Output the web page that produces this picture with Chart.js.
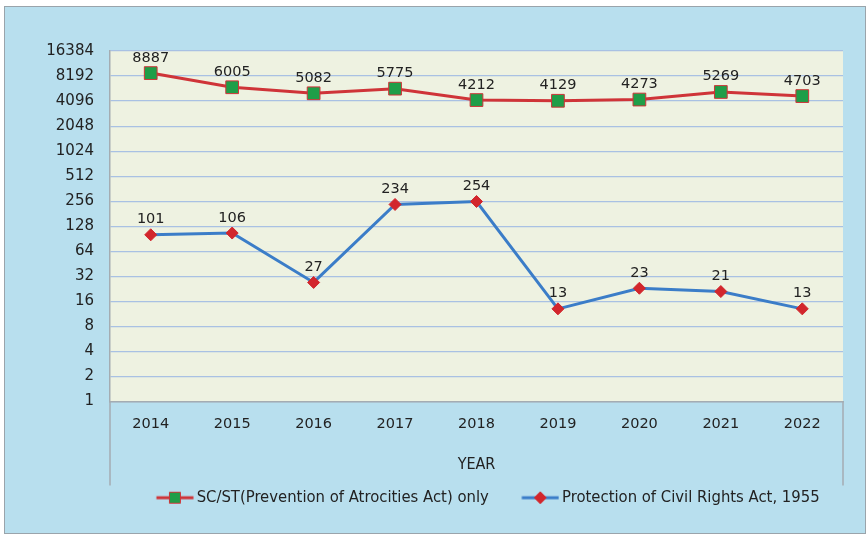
<!DOCTYPE html>
<html><head><meta charset="utf-8">
<script src="https://cdn.jsdelivr.net/npm/chart.js@4/dist/chart.umd.min.js"></script>
<style>html,body{margin:0;padding:0;background:#fff;overflow:hidden}#wrap{width:867px;height:538px}</style>
</head><body><div id="wrap"><canvas id="c" width="867" height="538"></canvas></div>
<script>
const years = ['2014','2015','2016','2017','2018','2019','2020','2021','2022'];
const scstValues = [8887,6005,5082,5775,4212,4129,4273,5269,4703];
const pcrValues = [101,106,27,234,254,13,23,21,13];
const yTickValues = [1,2,4,8,16,32,64,128,256,512,1024,2048,4096,8192,16384];
const seriesNames = ['SC/ST(Prevention of Atrocities Act) only','Protection of Civil Rights Act, 1955'];
const xTitle = 'YEAR';

const RED = '#cf3438', GREEN = '#1f9e48', BLUE = '#3b7dc8', DRED = '#d2262c';
const NUM_FONT = 'DejaVu Sans';
const TXT_FONT = '"Liberation Sans Narrow", "DejaVu Sans Condensed", sans-serif';

function makeIcon(lineColor, fill, stroke, shape) {
  const c = document.createElement('canvas');
  c.width = 66; c.height = 16;
  const g = c.getContext('2d');
  g.strokeStyle = lineColor; g.lineWidth = 3;
  g.beginPath(); g.moveTo(28.5, 8); g.lineTo(65.5, 8); g.stroke();
  const cx = 47, cy = 8;
  g.fillStyle = fill; g.strokeStyle = stroke; g.lineWidth = 1;
  g.beginPath();
  if (shape === 'rect') { g.rect(cx - 5.5, cy - 5.5, 11, 11); }
  else { g.moveTo(cx, cy - 6); g.lineTo(cx + 6, cy); g.lineTo(cx, cy + 6); g.lineTo(cx - 6, cy); g.closePath(); }
  g.fill(); g.stroke();
  return c;
}
const icons = [makeIcon(RED, GREEN, RED, 'rect'), makeIcon(BLUE, DRED, DRED, 'diamond')];

const panelPlugin = {
  id: 'panel',
  beforeDraw(chart) {
    const ctx = chart.ctx, a = chart.chartArea;
    ctx.save();
    ctx.fillStyle = '#ffffff'; ctx.fillRect(0, 0, chart.width, chart.height);
    ctx.fillStyle = '#b8dfee'; ctx.fillRect(5, 6, chart.width - 7, chart.height - 10);
    ctx.strokeStyle = '#9aa4ab'; ctx.lineWidth = 1;
    ctx.strokeRect(4.5, 6.5, chart.width - 6, chart.height - 11);
    ctx.fillStyle = '#eef2e1'; ctx.fillRect(a.left, a.top, a.right - a.left, a.bottom - a.top);
    ctx.restore();
  },
  afterDraw(chart) {
    const ctx = chart.ctx, a = chart.chartArea;
    ctx.save();
    ctx.strokeStyle = '#a4acb2'; ctx.lineWidth = 1.5;
    ctx.beginPath();
    ctx.moveTo(a.left, a.bottom); ctx.lineTo(a.left, a.bottom + 84);
    ctx.moveTo(a.right, a.bottom); ctx.lineTo(a.right, a.bottom + 84);
    ctx.stroke();
    ctx.restore();
  }
};

const labelPlugin = {
  id: 'pointLabels',
  afterDatasetsDraw(chart) {
    const ctx = chart.ctx;
    ctx.save();
    ctx.font = '14.5px ' + NUM_FONT;
    ctx.fillStyle = '#222';
    ctx.textAlign = 'center'; ctx.textBaseline = 'bottom';
    chart.data.datasets.forEach((ds, i) => {
      chart.getDatasetMeta(i).data.forEach((pt, j) => {
        ctx.fillText(String(ds.data[j]), pt.x, pt.y - 8);
      });
    });
    ctx.restore();
  }
};

new Chart(document.getElementById('c'), {
  type: 'line',
  data: {
    labels: years,
    datasets: [
      { label: seriesNames[0], data: scstValues, borderColor: RED, borderWidth: 3,
        pointStyle: 'rect', pointRadius: 9, pointHoverRadius: 9, pointBackgroundColor: GREEN,
        pointBorderColor: RED, pointBorderWidth: 1, tension: 0 },
      { label: seriesNames[1], data: pcrValues, borderColor: BLUE, borderWidth: 3,
        pointStyle: 'rectRot', pointRadius: 6, pointHoverRadius: 6, pointBackgroundColor: DRED,
        pointBorderColor: DRED, pointBorderWidth: 1, tension: 0 }
    ]
  },
  options: {
    responsive: false, animation: false, devicePixelRatio: 1,
    layout: { padding: { top: 51, right: 24, bottom: 22, left: 0 } },
    plugins: {
      tooltip: { enabled: false },
      legend: {
        position: 'bottom', fullSize: false,
        labels: {
          usePointStyle: true, pointStyleWidth: 55, padding: 10, color: '#222',
          font: { family: TXT_FONT, size: 16.5 },
          generateLabels(chart) {
            return chart.data.datasets.map((ds, i) => ({
              text: ds.label, pointStyle: icons[i], fillStyle: 'transparent',
              strokeStyle: 'transparent', lineWidth: 0, hidden: false, datasetIndex: i, fontColor: '#222'
            }));
          }
        }
      }
    },
    scales: {
      x: {
        offset: true,
        grid: { display: false, drawTicks: false },
        border: { display: true, color: '#a4acb2', width: 1.5 },
        ticks: { padding: 14, color: '#222', font: { family: NUM_FONT, size: 14.5 } },
        title: { display: true, text: xTitle, color: '#222', font: { family: TXT_FONT, size: 16 }, padding: { top: 0, bottom: 5 } },
        afterFit(s) { s.height = 78; }
      },
      y: {
        type: 'logarithmic', min: yTickValues[0], max: yTickValues[yTickValues.length - 1],
        afterBuildTicks(s) { s.ticks = yTickValues.map(v => ({ value: v })); },
        grid: { color: '#a9c1e3', lineWidth: 1.2, drawTicks: false },
        border: { display: true, color: '#a4acb2', width: 1.5 },
        ticks: { padding: 16, color: '#222', font: { family: NUM_FONT, size: 15 }, callback: v => String(v), autoSkip: false },
        afterFit(s) { s.width = 110; }
      }
    }
  },
  plugins: [panelPlugin, labelPlugin]
});
</script></body></html>
